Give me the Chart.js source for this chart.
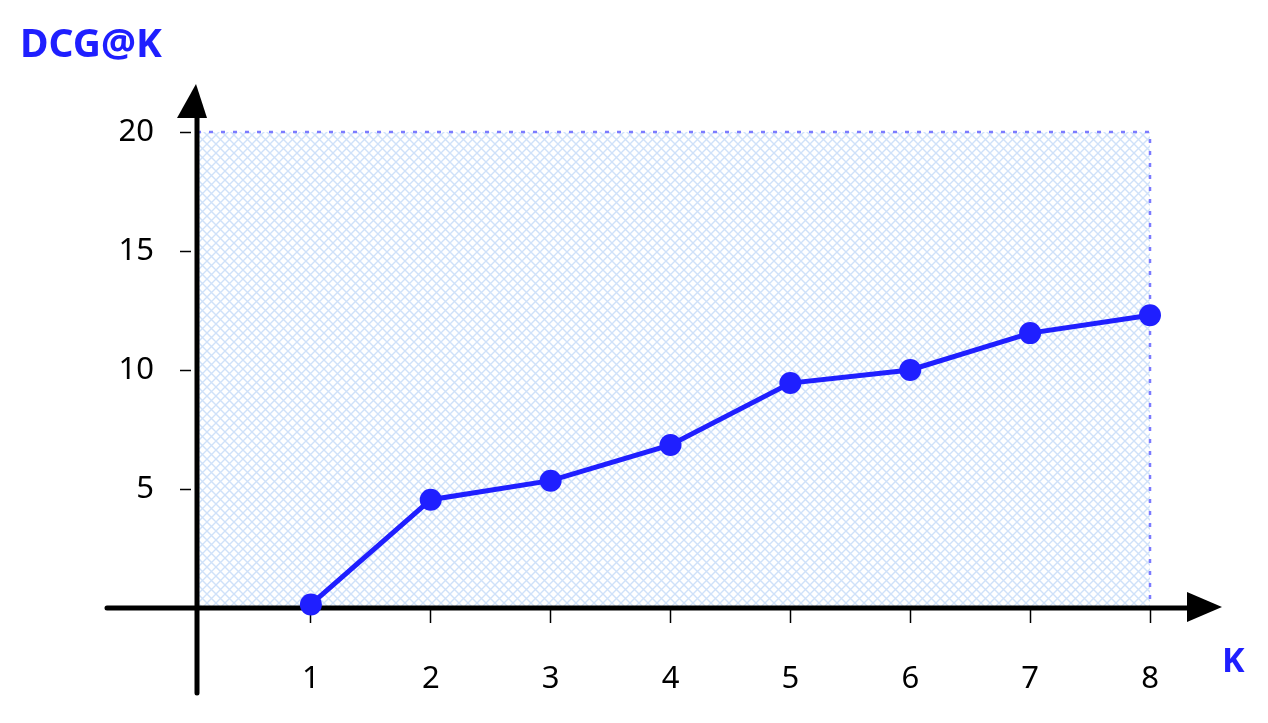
<!DOCTYPE html>
<html>
<head>
<meta charset="utf-8">
<script src="https://cdn.jsdelivr.net/npm/chart.js@4"></script>
<style>
  html, body { margin: 0; padding: 0; background: #fff; }
  #wrap { width: 1268px; height: 723px; }
</style>
</head>
<body>
<div id="wrap"><canvas id="chart"></canvas></div>
<script>
// values
const kValues = [1, 2, 3, 4, 5, 6, 7, 8]
const dcgValues = [0.15, 4.55, 5.35, 6.85, 9.45, 10.0, 11.55, 12.3]
const yTitle = 'DCG@K'
const xTitle = 'K'

const BLUE = '#1f1fff'
const FONT = "'Noto Sans', sans-serif"

function hatchPattern(ctx) {
  const c = document.createElement('canvas')
  c.width = 9; c.height = 9
  const g = c.getContext('2d')
  g.strokeStyle = 'rgba(175,205,245,0.6)'
  g.lineWidth = 1.4
  g.beginPath()
  g.moveTo(0, 0); g.lineTo(9, 9)
  g.moveTo(9, 0); g.lineTo(0, 9)
  g.stroke()
  return ctx.createPattern(c, 'repeat')
}

// hatched box, dashed border, arrow axes and the two blue titles
const sketchPlugin = {
  id: 'sketch',
  beforeDatasetsDraw(chart) {
    const { ctx, scales: { x, y } } = chart
    // the drawn y axis sits a little right of k = 0
    const x0 = x.getPixelForValue(0) + 6, x1 = x.getPixelForValue(8)
    const y0 = y.getPixelForValue(0), y1 = y.getPixelForValue(20)

    ctx.save()
    ctx.fillStyle = hatchPattern(ctx)
    ctx.fillRect(x0, y1, x1 - x0, y0 - y1)

    ctx.strokeStyle = '#7b7bff'
    ctx.lineWidth = 2.5
    ctx.setLineDash([4, 8])
    ctx.beginPath()
    ctx.moveTo(x0, y1); ctx.lineTo(x1, y1); ctx.lineTo(x1, y0)
    ctx.stroke()
    ctx.setLineDash([])

    // axes
    ctx.strokeStyle = '#000'
    ctx.fillStyle = '#000'
    ctx.lineWidth = 5
    ctx.lineCap = 'round'
    ctx.beginPath()
    ctx.moveTo(x0, y0 + 85); ctx.lineTo(x0, y1 - 20)
    ctx.moveTo(x0 - 90, y0); ctx.lineTo(x1 + 45, y0)
    ctx.stroke()

    ctx.beginPath()
    ctx.moveTo(x0 - 1, y1 - 48)
    ctx.lineTo(x0 - 20, y1 - 14)
    ctx.lineTo(x0 + 10, y1 - 14)
    ctx.closePath()
    ctx.fill()

    ctx.beginPath()
    ctx.moveTo(x1 + 72, y0 - 1)
    ctx.lineTo(x1 + 37, y0 - 16)
    ctx.lineTo(x1 + 37, y0 + 14)
    ctx.closePath()
    ctx.fill()

    ctx.fillStyle = BLUE
    ctx.textBaseline = 'middle'
    ctx.textAlign = 'left'
    ctx.font = 'bold 39px ' + FONT
    ctx.fillText(yTitle, 20, 46)
    ctx.font = 'bold 34px ' + FONT
    ctx.fillText(xTitle, x1 + 72, y0 + 54)
    ctx.restore()
  }
}

const dropZero = scale => {
  scale.ticks = scale.ticks.filter(t => t.value !== 0)
}

new Chart(document.getElementById('chart'), {
  type: 'line',
  data: {
    datasets: [{
      data: kValues.map((k, i) => ({ x: k, y: dcgValues[i] })),
      borderColor: BLUE,
      backgroundColor: BLUE,
      borderWidth: 5,
      pointRadius: 11,
      pointHoverRadius: 11,
      pointBorderWidth: 0,
      clip: false
    }]
  },
  options: {
    responsive: true,
    maintainAspectRatio: false,
    animation: false,
    layout: { padding: { top: 132, right: 118, left: 0, bottom: 0 } },
    plugins: {
      legend: { display: false },
      tooltip: { enabled: false }
    },
    scales: {
      x: {
        type: 'linear',
        min: 0,
        max: 8,
        afterBuildTicks: dropZero,
        afterFit: s => { s.height = 115 },
        ticks: { stepSize: 1, padding: 38, color: '#000', font: { family: FONT, size: 31 } },
        grid: { drawOnChartArea: false, tickLength: 15, tickWidth: 1.5, tickColor: '#000' },
        border: { display: false }
      },
      y: {
        min: 0,
        max: 20,
        afterBuildTicks: dropZero,
        afterFit: s => { s.width = 191 },
        ticks: { stepSize: 5, padding: 26, color: '#000', font: { family: FONT, size: 31 } },
        grid: { drawOnChartArea: false, tickLength: 11, tickWidth: 1.5, tickColor: '#000' },
        border: { display: false }
      }
    }
  },
  plugins: [sketchPlugin]
})
</script>
</body>
</html>
